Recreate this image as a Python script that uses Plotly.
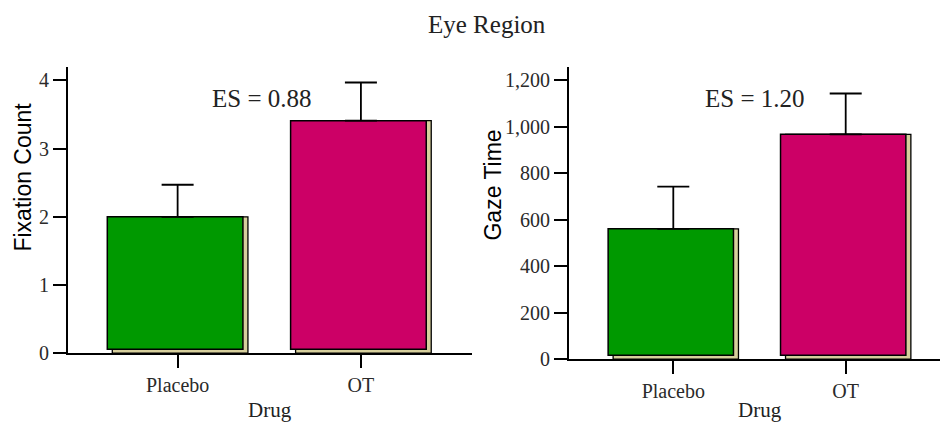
import plotly.graph_objects as go

# ---- data -------------------------------------------------------------
drugs = ["Placebo", "OT"]
fixation_mean = [2.00, 3.41]
fixation_se = [0.47, 0.56]
gaze_mean = [561, 968]
gaze_se = [182, 176]
effect_sizes = ["ES = 0.88", "ES = 1.20"]
y_titles = ["Fixation Count", "Gaze Time"]
x_title = "Drug"
chart_title = "Eye Region"

# ---- style ------------------------------------------------------------
W, H = 940, 429
H_EFF = 419          # drawable height used when converting pixel rows to paper
bar_colors = ["#009900", "#cc0066"]
shadow_color = "#d6cf9c"
serif = "Liberation Serif, Times New Roman, serif"
sans = "Liberation Sans, Arial, sans-serif"
tick_color = "#2a2a2a"
SHADOW_PX = 5   # horizontal drop-shadow shift
LIFT_PX = 4     # front face raised above the baseline


def px_x(p):
    return p / W


def px_y(p):
    return 1 - p / H_EFF


# panel geometry in pixels: (x_left, x_right, y_bottom, y_top), axis ranges
panels = [
    dict(px=(68, 472, 354, 67), xr=(-0.598, 1.606), yr=(0, 4.2), dtick=1,
         fmt="", mean=fixation_mean, se=fixation_se, bw=0.74),
    dict(px=(569, 940, 360, 66.7), xr=(-0.605, 1.547), yr=(0, 1260), dtick=200,
         fmt=",d", mean=gaze_mean, se=gaze_se, bw=0.727),
]

fig = go.Figure()
layout_axes = {}

for i, p in enumerate(panels):
    n = "" if i == 0 else str(i + 1)
    xa, ya = "x" + n, "y" + n
    x0, x1, yb, yt = p["px"]
    x_unit = (x1 - x0) / (p["xr"][1] - p["xr"][0])
    y_unit = (yb - yt) / (p["yr"][1] - p["yr"][0])
    lift = LIFT_PX / y_unit
    shift = SHADOW_PX / x_unit
    bw = p["bw"]

    # beige drop shadow behind each bar
    fig.add_trace(go.Bar(
        x=drugs, y=p["mean"], width=bw, offset=-bw / 2 + shift / 2,
        marker=dict(color=shadow_color, line=dict(color="black", width=1.3)),
        xaxis=xa, yaxis=ya, showlegend=False, hoverinfo="skip"))
    # coloured front face
    fig.add_trace(go.Bar(
        x=drugs, y=[m - lift for m in p["mean"]], base=lift, width=bw,
        offset=-bw / 2 - shift / 2,
        marker=dict(color=bar_colors, line=dict(color="black", width=1.5)),
        xaxis=xa, yaxis=ya, showlegend=False))
    # upper error bars
    fig.add_trace(go.Scatter(
        x=drugs, y=p["mean"], mode="markers",
        marker=dict(size=1, color="rgba(0,0,0,0)"),
        error_y=dict(type="data", array=p["se"], arrayminus=[0] * len(drugs),
                     symmetric=False, color="black", thickness=1.8, width=16),
        xaxis=xa, yaxis=ya, showlegend=False, hoverinfo="skip"))

    common = dict(showline=True, linecolor="black", linewidth=1.8,
                  ticks="outside", ticklen=13, tickwidth=1.8, tickcolor="black",
                  showgrid=False, zeroline=False,
                  tickfont=dict(family=serif, size=20, color=tick_color))
    layout_axes["xaxis" + n] = dict(
        common, domain=[px_x(x0), px_x(x1)], range=list(p["xr"]),
        autorange=False, type="category", anchor=ya)
    layout_axes["yaxis" + n] = dict(
        common, domain=[px_y(yb), px_y(yt)], range=list(p["yr"]),
        autorange=False, dtick=p["dtick"], tick0=0, tickformat=p["fmt"],
        anchor=xa)

fig.update_layout(**layout_axes)

ann = [
    dict(text=chart_title, x=px_x(487), y=px_y(25),
         font=dict(family=serif, size=25, color="#222222")),
    dict(text=effect_sizes[0], x=px_x(262), y=px_y(99),
         font=dict(family=serif, size=25, color="#222222")),
    dict(text=effect_sizes[1], x=px_x(755), y=px_y(99),
         font=dict(family=serif, size=25, color="#222222")),
    dict(text=y_titles[0], x=px_x(23), y=px_y(178), textangle=-90,
         font=dict(family=sans, size=23, color="black")),
    dict(text=y_titles[1], x=px_x(493), y=px_y(186), textangle=-90,
         font=dict(family=sans, size=23, color="black")),
    dict(text=x_title, x=px_x(270), y=px_y(411),
         font=dict(family=serif, size=21, color="#222222")),
    dict(text=x_title, x=px_x(760), y=px_y(411),
         font=dict(family=serif, size=21, color="#222222")),
]
for a in ann:
    a.update(xref="paper", yref="paper", showarrow=False,
             xanchor="center", yanchor="middle")

fig.update_layout(
    width=W, height=H, margin=dict(l=0, r=0, t=0, b=0),
    paper_bgcolor="white", plot_bgcolor="white",
    barmode="overlay", annotations=ann, showlegend=False)

fig.write_html("out.html")
